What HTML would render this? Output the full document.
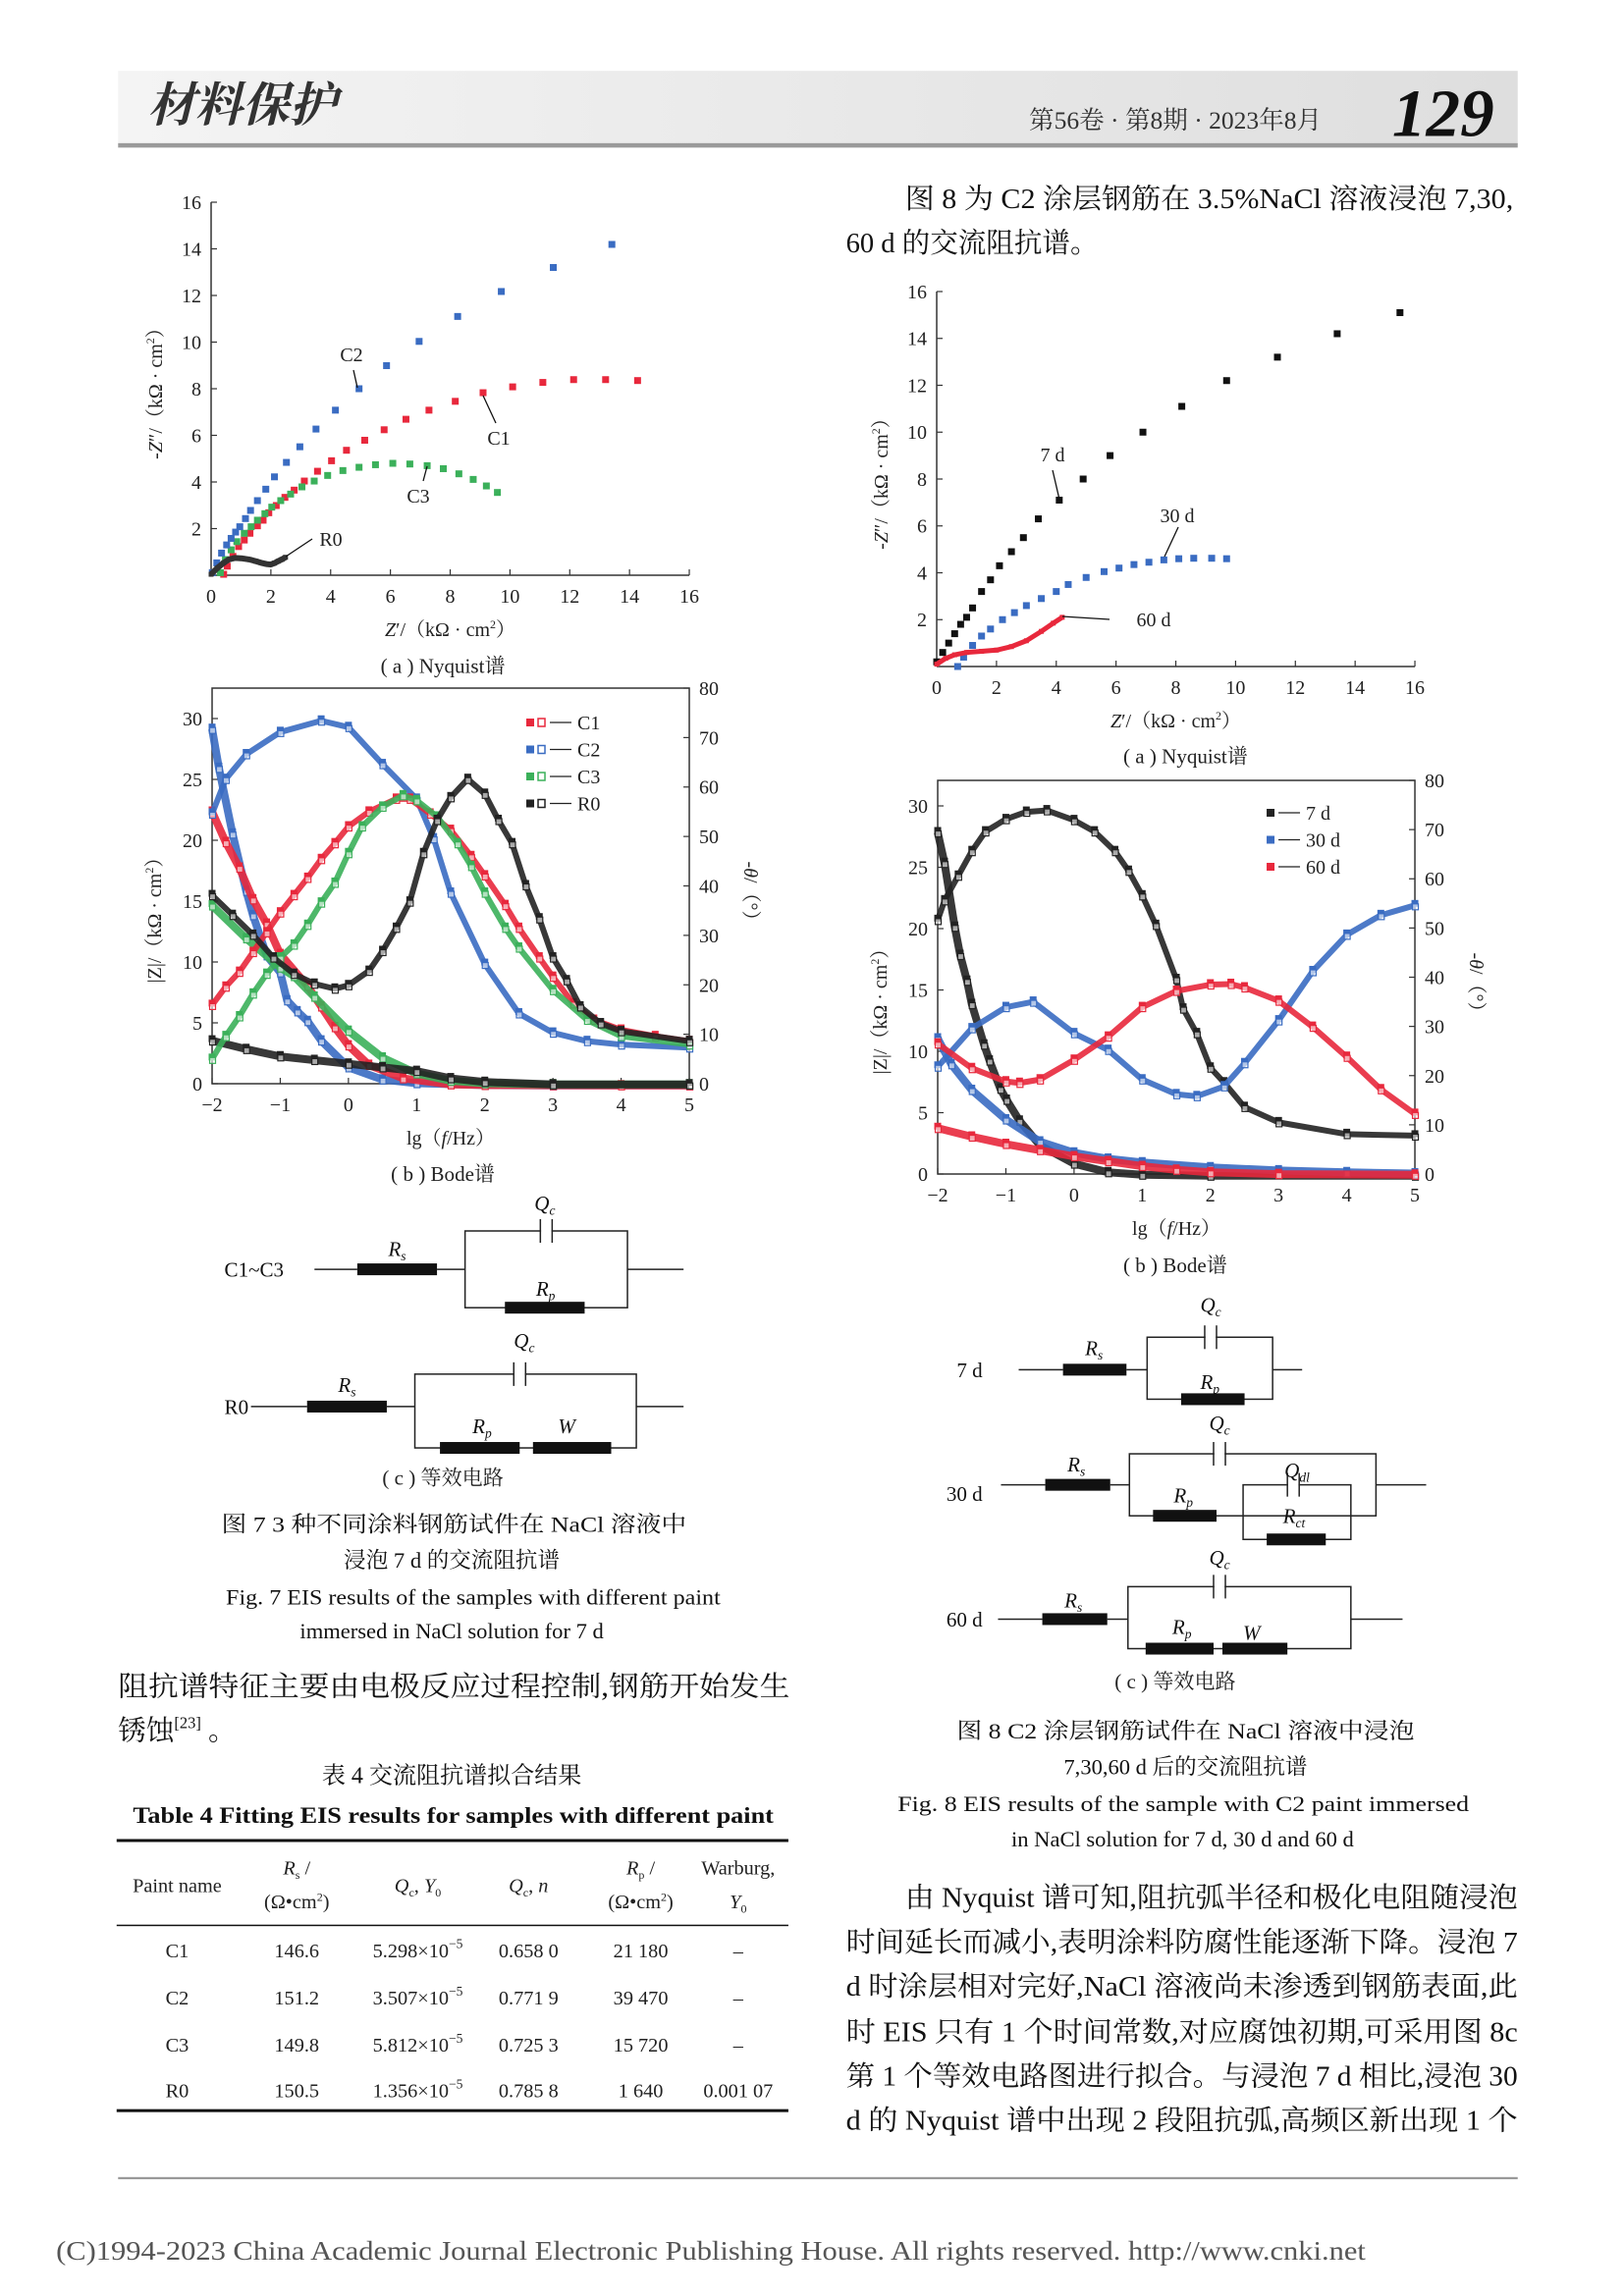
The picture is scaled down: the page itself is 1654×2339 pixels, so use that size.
<!DOCTYPE html>
<html><head><meta charset="utf-8">
<style>
html,body{margin:0;padding:0;background:#fff;}
svg{display:block;}
.cn{font-family:"Liberation Serif","Noto Serif CJK SC",serif;}
.tk{font-family:"Liberation Serif","Noto Serif CJK SC",serif;font-size:20px;fill:#222;}
</style></head>
<body>
<svg id="page" width="1654" height="2339" viewBox="0 0 1100 1555.6" preserveAspectRatio="none" xmlns="http://www.w3.org/2000/svg">
<defs><linearGradient id="hdr" x1="0" x2="1"><stop offset="0" stop-color="#f4f4f4"/><stop offset="1" stop-color="#dedede"/></linearGradient></defs>
<rect x="80" y="48" width="948" height="50" fill="url(#hdr)"/>
<rect x="80" y="97" width="948" height="3" fill="#9a9a9a"/>
<text x="100" y="82" class="cn" font-size="32" font-style="italic" font-weight="bold" fill="#333">材料保护</text>
<text x="697" y="87" class="cn" font-size="17" fill="#333">第56卷 · 第8期 · 2023年8月</text>
<text x="943" y="92" font-family="Liberation Serif" font-weight="bold" font-style="italic" font-size="46" fill="#111">129</text>

<g class="cn" font-size="19" fill="#111">
<text x="613" y="141" textLength="412" lengthAdjust="spacingAndGlyphs">图 8 为 C2 涂层钢筋在 3.5%NaCl 溶液浸泡 7,30,</text>
<text x="573" y="171">60 d 的交流阻抗谱。</text>
</g>

<g id="charts" transform="scale(0.665073)"></g>

<g class="cn" font-size="14" fill="#222" text-anchor="middle">
<text x="300" y="456">( a ) Nyquist谱</text>
<text x="300" y="800">( b ) Bode谱</text>
<text x="300" y="1006">( c ) 等效电路</text>
<text x="803" y="517">( a ) Nyquist谱</text>
<text x="796" y="862">( b ) Bode谱</text>
<text x="796" y="1144">( c ) 等效电路</text>
</g>

<!-- circuits fig7 -->
<g stroke="#222" stroke-width="1" fill="none">
<line x1="213" y1="860" x2="242" y2="860"/><line x1="296" y1="860" x2="315" y2="860"/>
<rect x="315" y="834" width="110" height="52"/><line x1="425" y1="860" x2="463" y2="860"/>
<rect x="366.5" y="831" width="7" height="6" fill="#fff" stroke="none"/>
<line x1="366" y1="826" x2="366" y2="842"/><line x1="374" y1="826" x2="374" y2="842"/>
<line x1="281" y1="953" x2="262" y2="953"/><line x1="208" y1="953" x2="170" y2="953"/>
<rect x="281" y="931" width="150" height="50"/><line x1="431" y1="953" x2="463" y2="953"/>
<rect x="348.5" y="928" width="7" height="6" fill="#fff" stroke="none"/>
<line x1="348" y1="923" x2="348" y2="939"/><line x1="356" y1="923" x2="356" y2="939"/>
</g>
<g fill="#111">
<rect x="242" y="856" width="54" height="8"/>
<rect x="342" y="882" width="54" height="8"/>
<rect x="208" y="949" width="54" height="8"/>
<rect x="298" y="977" width="54" height="8"/>
<rect x="361" y="977" width="53" height="8"/>
</g>
<g font-family="Liberation Serif" font-size="14" fill="#111">
<text x="152" y="865">C1~C3</text>
<text x="263" y="851" font-style="italic">R<tspan font-size="9" dy="3">s</tspan></text>
<text x="362" y="820" font-style="italic">Q<tspan font-size="9" dy="3">c</tspan></text>
<text x="363" y="878" font-style="italic">R<tspan font-size="9" dy="3">p</tspan></text>
<text x="152" y="958">R0</text>
<text x="229" y="943" font-style="italic">R<tspan font-size="9" dy="3">s</tspan></text>
<text x="348" y="913" font-style="italic">Q<tspan font-size="9" dy="3">c</tspan></text>
<text x="320" y="971" font-style="italic">R<tspan font-size="9" dy="3">p</tspan></text>
<text x="378" y="971" font-style="italic">W</text>
</g>

<!-- circuits fig8 -->
<g stroke="#222" stroke-width="1" fill="none">
<line x1="690" y1="928" x2="720" y2="928"/><line x1="763" y1="928" x2="777" y2="928"/>
<rect x="777" y="906" width="85" height="42"/><line x1="862" y1="928" x2="882" y2="928"/>
<rect x="816.5" y="903" width="7" height="6" fill="#fff" stroke="none"/>
<line x1="816" y1="898" x2="816" y2="914"/><line x1="824" y1="898" x2="824" y2="914"/>
<line x1="678" y1="1006" x2="708" y2="1006"/><line x1="752" y1="1006" x2="765" y2="1006"/>
<rect x="765" y="985" width="167" height="42"/><line x1="932" y1="1006" x2="966" y2="1006"/>
<rect x="822.5" y="982" width="7" height="6" fill="#fff" stroke="none"/>
<line x1="822" y1="977" x2="822" y2="993"/><line x1="830" y1="977" x2="830" y2="993"/>
<rect x="842" y="1006" width="73" height="37"/>
<rect x="872.5" y="1003" width="7" height="6" fill="#fff" stroke="none"/>
<line x1="872" y1="998" x2="872" y2="1014"/><line x1="880" y1="998" x2="880" y2="1014"/>
<line x1="676" y1="1097" x2="706" y2="1097"/><line x1="750" y1="1097" x2="764" y2="1097"/>
<rect x="764" y="1075" width="151" height="42"/><line x1="915" y1="1097" x2="950" y2="1097"/>
<rect x="822.5" y="1072" width="7" height="6" fill="#fff" stroke="none"/>
<line x1="822" y1="1067" x2="822" y2="1083"/><line x1="830" y1="1067" x2="830" y2="1083"/>
</g>
<g fill="#111">
<rect x="720" y="924" width="43" height="8"/>
<rect x="800" y="944" width="43" height="8"/>
<rect x="708" y="1002" width="44" height="8"/>
<rect x="781" y="1023" width="43" height="8"/>
<rect x="858" y="1039" width="40" height="8"/>
<rect x="706" y="1093" width="44" height="8"/>
<rect x="776" y="1113" width="46" height="8"/>
<rect x="828" y="1113" width="44" height="8"/>
</g>
<g font-family="Liberation Serif" font-size="14" fill="#111">
<text x="648" y="933">7 d</text>
<text x="735" y="918" font-style="italic">R<tspan font-size="9" dy="3">s</tspan></text>
<text x="813" y="889" font-style="italic">Q<tspan font-size="9" dy="3">c</tspan></text>
<text x="813" y="941" font-style="italic">R<tspan font-size="9" dy="3">p</tspan></text>
<text x="641" y="1017">30 d</text>
<text x="723" y="997" font-style="italic">R<tspan font-size="9" dy="3">s</tspan></text>
<text x="819" y="969" font-style="italic">Q<tspan font-size="9" dy="3">c</tspan></text>
<text x="795" y="1018" font-style="italic">R<tspan font-size="9" dy="3">p</tspan></text>
<text x="870" y="1001" font-style="italic">Q<tspan font-size="9" dy="3">dl</tspan></text>
<text x="869" y="1032" font-style="italic">R<tspan font-size="9" dy="3">ct</tspan></text>
<text x="641" y="1102">60 d</text>
<text x="721" y="1089" font-style="italic">R<tspan font-size="9" dy="3">s</tspan></text>
<text x="819" y="1060" font-style="italic">Q<tspan font-size="9" dy="3">c</tspan></text>
<text x="794" y="1107" font-style="italic">R<tspan font-size="9" dy="3">p</tspan></text>
<text x="842" y="1111" font-style="italic">W</text>
</g>

<!-- captions -->
<g class="cn" font-size="15" fill="#111">
<text x="150" y="1038" textLength="315" lengthAdjust="spacingAndGlyphs">图 7   3 种不同涂料钢筋试件在 NaCl 溶液中</text>
<text x="306" y="1062" text-anchor="middle">浸泡 7 d 的交流阻抗谱</text>
<text x="153" y="1087" textLength="335" lengthAdjust="spacingAndGlyphs">Fig. 7   EIS results of the samples with different paint</text>
<text x="306" y="1110" text-anchor="middle">immersed in NaCl solution for 7 d</text>
<text x="648" y="1178" textLength="310" lengthAdjust="spacingAndGlyphs">图 8   C2 涂层钢筋试件在 NaCl 溶液中浸泡</text>
<text x="803" y="1202" text-anchor="middle">7,30,60 d 后的交流阻抗谱</text>
<text x="608" y="1227" textLength="387" lengthAdjust="spacingAndGlyphs">Fig. 8   EIS results of the sample with C2 paint immersed</text>
<text x="801" y="1251" text-anchor="middle">in NaCl solution for 7 d, 30 d and 60 d</text>
</g>

<g class="cn" font-size="19" fill="#111">
<text x="80" y="1149" textLength="455" lengthAdjust="spacingAndGlyphs">阻抗谱特征主要由电极反应过程控制,钢筋开始发生</text>
<text x="80" y="1179">锈蚀<tspan font-size="11" dy="-8">[23]</tspan><tspan dy="8"> 。</tspan></text>
</g>
<text x="306" y="1208" class="cn" font-size="16" text-anchor="middle" fill="#111">表 4   交流阻抗谱拟合结果</text>
<text x="90" y="1235" font-family="Liberation Serif" font-weight="bold" font-size="15.5" textLength="434" lengthAdjust="spacingAndGlyphs" fill="#111">Table 4   Fitting EIS results for samples with different paint</text>

<g>
<rect x="79" y="1246" width="455" height="2" fill="#111"/>
<rect x="79" y="1304" width="455" height="1" fill="#111"/>
<rect x="79" y="1429" width="455" height="2" fill="#111"/>
<g font-family="Liberation Serif" font-size="13.5" fill="#222" text-anchor="middle">
<text x="120" y="1282">Paint name</text>
<text x="201" y="1270"><tspan font-style="italic">R</tspan><tspan font-size="8" dy="3">s</tspan><tspan dy="-3"> /</tspan></text>
<text x="201" y="1293">(Ω•cm<tspan font-size="8" dy="-5">2</tspan><tspan dy="5">)</tspan></text>
<text x="283" y="1282"><tspan font-style="italic">Q</tspan><tspan font-size="8" dy="3">c</tspan><tspan dy="-3">, </tspan><tspan font-style="italic">Y</tspan><tspan font-size="8" dy="3">0</tspan></text>
<text x="358" y="1282"><tspan font-style="italic">Q</tspan><tspan font-size="8" dy="3">c</tspan><tspan dy="-3">, </tspan><tspan font-style="italic">n</tspan></text>
<text x="434" y="1270"><tspan font-style="italic">R</tspan><tspan font-size="8" dy="3">p</tspan><tspan dy="-3"> /</tspan></text>
<text x="434" y="1293">(Ω•cm<tspan font-size="8" dy="-5">2</tspan><tspan dy="5">)</tspan></text>
<text x="500" y="1270">Warburg,</text>
<text x="500" y="1293"><tspan font-style="italic">Y</tspan><tspan font-size="8" dy="3">0</tspan></text>
</g>
<g id="tbody" font-family="Liberation Serif" font-size="13.5" fill="#222" text-anchor="middle"></g>
</g>

<g class="cn" font-size="19" fill="#111">
<text x="613" y="1292" textLength="415" lengthAdjust="spacingAndGlyphs">由 Nyquist 谱可知,阻抗弧半径和极化电阻随浸泡</text>
<text x="573" y="1322" textLength="455" lengthAdjust="spacingAndGlyphs">时间延长而减小,表明涂料防腐性能逐渐下降。浸泡 7</text>
<text x="573" y="1352" textLength="455" lengthAdjust="spacingAndGlyphs">d 时涂层相对完好,NaCl 溶液尚未渗透到钢筋表面,此</text>
<text x="573" y="1383" textLength="455" lengthAdjust="spacingAndGlyphs">时 EIS 只有 1 个时间常数,对应腐蚀初期,可采用图 8c</text>
<text x="573" y="1413" textLength="455" lengthAdjust="spacingAndGlyphs">第 1 个等效电路图进行拟合。与浸泡 7 d 相比,浸泡 30</text>
<text x="573" y="1443" textLength="455" lengthAdjust="spacingAndGlyphs">d 的 Nyquist 谱中出现 2 段阻抗弧,高频区新出现 1 个</text>
</g>
<rect x="80" y="1475" width="948" height="1.5" fill="#999"/>
<text x="38" y="1531" font-family="Liberation Serif" font-size="18" fill="#555" textLength="887" lengthAdjust="spacingAndGlyphs">(C)1994-2023 China Academic Journal Electronic Publishing House. All rights reserved.    http://www.cnki.net</text>
</svg>

<script>
// ===== Fig 7a Nyquist data (kΩ·cm²) =====
const f7aTicks = [0,2,4,6,8,10,12,14,16];
const f7aC1X = [0.42,0.54,0.73,0.92,1.11,1.3,1.55,1.74,1.93,2.18,2.47,2.78,3.12,3.56,4.03,4.53,5.14,5.79,6.52,7.29,8.17,9.1,10.09,11.1,12.13,13.2,14.27];
const f7aC1Y = [0.04,0.39,0.81,1.23,1.51,1.8,2.12,2.36,2.68,2.99,3.34,3.65,4.04,4.46,4.91,5.36,5.79,6.24,6.69,7.08,7.46,7.83,8.08,8.27,8.39,8.39,8.35];
const f7aC2X = [0.04,0.19,0.35,0.52,0.67,0.82,0.96,1.15,1.32,1.55,1.83,2.12,2.52,2.97,3.51,4.16,4.95,5.87,6.96,8.25,9.71,11.45,13.41];
const f7aC2Y = [0.11,0.53,0.95,1.3,1.58,1.85,2.08,2.43,2.78,3.2,3.69,4.22,4.84,5.51,6.27,7.08,8.0,8.99,10.03,11.1,12.17,13.2,14.19];
const f7aC3X = [0.31,0.48,0.67,0.86,1.11,1.34,1.55,1.8,2.03,2.33,2.66,3.04,3.45,3.9,4.41,4.95,5.5,6.08,6.65,7.23,7.77,8.29,8.77,9.21,9.58];
const f7aC3Y = [0.11,0.67,1.09,1.44,1.8,2.08,2.36,2.64,2.92,3.2,3.48,3.79,4.04,4.28,4.49,4.63,4.74,4.8,4.77,4.7,4.57,4.35,4.11,3.83,3.55];
const f7aR0X = [0,0.2,0.42,0.6,0.79,1.05,1.3,1.5,1.68,1.85,1.99,2.12,2.24,2.37,2.49];
const f7aR0Y = [0.04,0.3,0.53,0.68,0.74,0.72,0.67,0.6,0.53,0.48,0.46,0.52,0.6,0.68,0.77];

// ===== Fig 7b Bode data =====
const bodeXTicks = [-2,-1,0,1,2,3,4,5];
const bodeZTicks = [0,5,10,15,20,25,30];
const bodePTicks = [0,10,20,30,40,50,60,70,80];
const b7C1ZX = [-2,-1.8,-1.6,-1.4,-1.2,-1,-0.6,-0.4,-0.2,0,0.3,0.8,1.5,2,3,4,5];
const b7C1Z  = [22.5,20,17.9,15.3,13.3,10.8,8.2,6.5,4.8,3.3,1.7,0.6,0.1,0.05,0.03,0.02,0.02];
const b7C2ZX = [-2,-1.9,-1.7,-1.5,-1.4,-1.2,-1,-0.9,-0.75,-0.6,-0.4,0,0.5,1,2,3,5];
const b7C2Z  = [29.3,26.1,20.7,16,14,10.7,9.3,7,6.1,5.3,3.7,1.5,0.5,0.2,0.05,0.02,0.02];
const b7C3ZX = [-2,-1.5,-1,-0.8,-0.5,0,0.5,1,1.5,2,3,5];
const b7C3Z  = [14.8,12.1,9.7,9,7.3,4.5,2.3,1,0.4,0.2,0.1,0.1];
const b7R0ZX = [-2,-1.5,-1,-0.5,0,0.5,1,1.5,2,3,5];
const b7R0Z  = [3.7,3,2.4,2.1,1.8,1.5,1.2,0.6,0.3,0.1,0.1];
const b7C1PX = [-2,-1.8,-1.6,-1.4,-1.2,-1,-0.8,-0.6,-0.4,-0.2,0,0.3,0.7,0.9,1.2,1.5,1.8,2,2.3,2.5,2.8,3,3.3,3.6,4,4.5,5];
const b7C1P  = [16.3,20,23,27,31,35,38.5,42,45.8,49,52.4,55.4,58,58,55,51.7,46.4,42.5,36.5,31.9,25.9,22,16.6,13.3,11.3,10,9];
const b7C2PX = [-2,-1.8,-1.5,-1,-0.4,0,0.5,1,1.25,1.5,2,2.5,3,3.5,4,5];
const b7C2P  = [55,62,67,71.5,73.8,72.5,65,58,50,39,24.6,14.6,10.7,9,8.3,7.7];
const b7C3PX = [-2,-1.8,-1.6,-1.4,-1.2,-1,-0.8,-0.6,-0.4,-0.2,0,0.2,0.5,0.8,1,1.3,1.6,1.8,2,2.3,2.5,3,3.5,4,5];
const b7C3P  = [5.4,10,14,18.6,22.6,25.9,28.5,32.5,37,41,47,52.4,56.4,58.7,57.7,54.4,49,44.4,39,31.9,27.9,19.3,13.3,10,8.3];
const b7R0PX = [-2,-1.7,-1.4,-1.1,-0.8,-0.5,-0.2,0,0.3,0.5,0.7,0.9,1.1,1.3,1.5,1.75,2,2.2,2.4,2.6,2.8,3,3.2,3.4,3.7,4,5];
const b7R0P  = [38.5,34.5,30.5,25.9,22.6,20.6,19.6,20.3,23.2,27.2,31.9,37.2,47,53.7,58.3,62,59,53.7,49,40.5,33.8,25.9,21.3,16,12.6,11,9];

// ===== Fig 8a Nyquist data =====
const f8a7dX = [0,0.2,0.4,0.6,0.8,1,1.2,1.5,1.8,2.1,2.5,2.9,3.4,4.1,4.9,5.8,6.9,8.2,9.7,11.4,13.4,15.5];
const f8a7dY = [0.2,0.6,1,1.4,1.8,2.1,2.5,3.2,3.7,4.3,4.9,5.5,6.3,7.1,8,9,10,11.1,12.2,13.2,14.2,15.1];
const f8a30dX = [0.7,0.9,1.2,1.5,1.8,2.2,2.6,3,3.5,4,4.4,5,5.6,6.1,6.6,7.1,7.6,8.1,8.6,9.2,9.7];
const f8a30dY = [0,0.4,0.9,1.3,1.6,2,2.3,2.6,2.9,3.2,3.5,3.8,4.05,4.2,4.35,4.45,4.55,4.6,4.62,4.62,4.6];
const f8a60dX = [0,0.3,0.6,1,1.5,2,2.5,3,3.5,3.9,4.2];
const f8a60dY = [0.1,0.35,0.5,0.6,0.65,0.7,0.85,1.1,1.5,1.85,2.1];

// ===== Fig 8b Bode data =====
const b8d7ZX = [-2,-1.9,-1.75,-1.67,-1.57,-1.5,-1.32,-1.24,-1.08,-0.99,-0.8,-0.5,0,0.5,1,2,5];
const b8d7Z  = [28,25.5,20.3,18,15.9,14,10.7,9.4,7.1,6.2,4.5,2.5,1,0.3,0.1,0.02,0.02];
const b8d7PX = [-2,-1.9,-1.7,-1.5,-1.3,-1,-0.7,-0.4,0,0.3,0.6,0.8,1,1.2,1.5,1.6,1.8,2,2.2,2.5,3,4,5];
const b8d7P  = [52,56,61,66,70,72.5,74,74.3,72.3,70,66,62,57,51,40,34,29,22,19,14,10.9,8.5,8.2];
const b8d30ZX = [-2,-1.8,-1.5,-1,-0.5,0,0.5,1,2,3,4,5];
const b8d30Z  = [11.2,9.1,7,4.6,2.8,1.9,1.4,1.1,0.7,0.45,0.3,0.2];
const b8d30PX = [-2,-1.5,-1,-0.6,0,0.5,1,1.5,1.8,2.2,2.5,3,3.5,4,4.5,5];
const b8d30P  = [22.2,30,34.3,35.4,29,25.6,19.6,16.6,16.2,18.2,22.9,31.6,41.6,49,53,55];
const b8d60ZX = [-2,-1.5,-1,-0.5,0,0.5,1,1.5,2,3,5];
const b8d60Z  = [3.9,3.2,2.6,2.1,1.6,1.2,0.8,0.5,0.3,0.15,0.1];
const b8d60PX = [-2,-1.5,-1,-0.8,-0.5,0,0.5,1,1.5,2,2.3,2.5,3,3.5,4,4.5,5];
const b8d60P  = [26.9,21.9,19.2,18.9,19.6,23.6,28.3,34.3,37.6,38.9,39,38.3,35.6,30.3,24.2,17.6,12.6];

// ===== Table 4 =====
const tNames = ['C1','C2','C3','R0'];
const tRs = ['146.6','151.2','149.8','150.5'];
const tY0 = ['5.298','3.507','5.812','1.356'];
const tN = ['0.658 0','0.771 9','0.725 3','0.785 8'];
const tRp = ['21 180','39 470','15 720','1 640'];
const tW = ['–','–','–','0.001 07'];

const NS = 'http://www.w3.org/2000/svg';
const root = document.getElementById('charts');
function mk(tag, attrs, parent){ const e=document.createElementNS(NS,tag); for(const k in attrs) e.setAttribute(k,attrs[k]); (parent||root).appendChild(e); return e; }
function txt(s, attrs, parent){ const e=mk('text',attrs,parent); e.textContent=s; return e; }

const BLUE='#3a6cc2', RED='#e8283c', GREEN='#3bb05a', BLACK='#222';

// ---------- Nyquist plot builder ----------
function nyquist(id, ox, oy, w, h, series, annotations){
  const g = mk('g',{});
  
  
  const X = v => ox + v*w/16, Y = v => oy - v*h/16;
  mk('line',{x1:ox,y1:oy,x2:ox,y2:oy-h,stroke:'#333','stroke-width':1.5},g);
  mk('line',{x1:ox,y1:oy,x2:ox+w,y2:oy,stroke:'#333','stroke-width':1.5},g);
  f7aTicks.forEach(t=>{
    mk('line',{x1:X(t),y1:oy,x2:X(t),y2:oy-6,stroke:'#333','stroke-width':1.2},g);
    const xl = txt(String(t),{x:X(t),y:oy+28,'text-anchor':'middle',class:'tk'},g);
    
    
    if(t>0){
      mk('line',{x1:ox,y1:Y(t),x2:ox+6,y2:Y(t),stroke:'#333','stroke-width':1.2},g);
      const yl = txt(String(t),{x:ox-10,y:Y(t)+7,'text-anchor':'end',class:'tk'},g);
      
      
    }
  });
  const xt = txt('',{x:ox+w/2,y:oy+62,'text-anchor':'middle',class:'tk'},g);
  xt.innerHTML = '<tspan font-style="italic">Z</tspan>′/（kΩ · cm<tspan font-size="12" dy="-8">2</tspan><tspan dy="8">）</tspan>';
  
  
  const yt = txt('',{x:0,y:0,'text-anchor':'middle',class:'tk',transform:`translate(${ox-50},${oy-h/2}) rotate(-90)`},g);
  yt.innerHTML = '-<tspan font-style="italic">Z</tspan>″/（kΩ · cm<tspan font-size="12" dy="-8">2</tspan><tspan dy="8">）</tspan>';
  
  
  series.forEach(s=>{
    const sg = mk('g',{},g);
    
    
    if(s.line){
      mk('polyline',{points:s.xs.map((v,i)=>X(v)+','+Y(s.ys[i])).join(' '),fill:'none',stroke:s.color,'stroke-width':s.line,'stroke-linejoin':'round'},sg);
    }
    s.xs.forEach((v,i)=>{
      const r = mk('rect',{x:X(v)-s.size/2,y:Y(s.ys[i])-s.size/2,width:s.size,height:s.size,fill:s.color},sg);
      
      
    });
  });
  annotations.forEach(a=>{
    mk('line',{x1:a.lx1,y1:a.ly1,x2:a.lx2,y2:a.ly2,stroke:'#111','stroke-width':1.3},g);
    const t = txt(a.t,{x:a.x,y:a.y,'text-anchor':'middle',class:'tk'},g);
    
    
  });
}

nyquist('fig7a', 215, 586, 487, 380, [
  {name:'series-c1',xs:f7aC1X,ys:f7aC1Y,color:RED,size:7},
  {name:'series-c3',xs:f7aC3X,ys:f7aC3Y,color:GREEN,size:7},
  {name:'series-c2',xs:f7aC2X,ys:f7aC2Y,color:BLUE,size:7},
  {name:'series-r0',xs:f7aR0X,ys:f7aR0Y,color:'#333',size:5,line:6}
],[
  {t:'C2',x:358,y:368,lx1:360,ly1:377,lx2:364,ly2:395},
  {t:'C1',x:508,y:453,lx1:492,ly1:403,lx2:505,ly2:431},
  {t:'C3',x:426,y:512,lx1:435,ly1:475,lx2:431,ly2:490},
  {t:'R0',x:337,y:556,lx1:318,ly1:549,lx2:291,ly2:567}
]);

nyquist('fig8a', 954, 679, 487, 382, [
  {name:'series-7d',xs:f8a7dX,ys:f8a7dY,color:'#111',size:7},
  {name:'series-30d',xs:f8a30dX,ys:f8a30dY,color:BLUE,size:7},
  {name:'series-60d',xs:f8a60dX,ys:f8a60dY,color:RED,size:5,line:5}
],[
  {t:'7 d',x:1072,y:470,lx1:1072,ly1:479,lx2:1079,ly2:509},
  {t:'30 d',x:1199,y:532,lx1:1200,ly1:537,lx2:1186,ly2:567},
  {t:'60 d',x:1175,y:638,lx1:1130,ly1:631,lx2:1082,ly2:628}
]);

// ---------- Bode plot builder ----------
function bode(id, x0, x1, yb, yt, zTop, series, legend, legX, legY){
  const g = mk('g',{});
  
  
  const X = v => x0 + (v+2)*(x1-x0)/7;
  const YL = v => yb - v*(yb-zTop)/30;
  const YR = v => yb - v*(yb-yt)/80;
  mk('rect',{x:x0,y:yt,width:x1-x0,height:yb-yt,fill:'none',stroke:'#333','stroke-width':1.5},g);
  bodeXTicks.forEach(t=>{
    mk('line',{x1:X(t),y1:yb,x2:X(t),y2:yb-6,stroke:'#333','stroke-width':1.2},g);
    const l = txt(t<0?'−'+(-t):String(t),{x:X(t),y:yb+28,'text-anchor':'middle',class:'tk'},g);
    
    
  });
  bodeZTicks.forEach(t=>{
    mk('line',{x1:x0,y1:YL(t),x2:x0+6,y2:YL(t),stroke:'#333','stroke-width':1.2},g);
    const l = txt(String(t),{x:x0-10,y:YL(t)+7,'text-anchor':'end',class:'tk'},g);
    
    
  });
  bodePTicks.forEach(t=>{
    mk('line',{x1:x1,y1:YR(t),x2:x1-6,y2:YR(t),stroke:'#333','stroke-width':1.2},g);
    const l = txt(String(t),{x:x1+10,y:YR(t)+7,'text-anchor':'start',class:'tk'},g);
    
    
  });
  const xt = txt('',{x:(x0+x1)/2,y:yb+62,'text-anchor':'middle',class:'tk'},g);
  xt.innerHTML = 'lg（<tspan font-style="italic">f</tspan>/Hz）';
  
  
  const lt = txt('',{x:0,y:0,'text-anchor':'middle',class:'tk',transform:`translate(${x0-52},${(yb+yt)/2+30}) rotate(-90)`},g);
  lt.innerHTML = '|Z|/（kΩ · cm<tspan font-size="12" dy="-8">2</tspan><tspan dy="8">）</tspan>';
  
  
  const rt = txt('',{x:0,y:0,'text-anchor':'middle',class:'tk',transform:`translate(${x1+56},${(yb+yt)/2+10}) rotate(90)`},g);
  rt.innerHTML = '-<tspan font-style="italic">θ</tspan>/（°）';
  
  
  series.forEach(s=>{
    const sg = mk('g',{},g);
    
    
    const Y = s.axis==='z' ? YL : YR;
    mk('polyline',{points:s.xs.map((v,i)=>X(v)+','+(Y(s.ys[i])+2)).join(' '),fill:'none',stroke:s.color,'stroke-width':s.axis==='z'?8:6,'stroke-linejoin':'round','stroke-opacity':0.9},sg);
    s.xs.forEach((v,i)=>{
      const r = mk('rect',{x:X(v)-3.5,y:Y(s.ys[i])-3.5,width:7,height:7,fill:s.color},sg);
      
      
      mk('rect',{x:X(v)-2.5,y:Y(s.ys[i])+0.5,width:6,height:6,fill:'#fff',stroke:s.color,'stroke-width':1.2,'fill-opacity':0.6},sg);
    });
  });
  legend.forEach((L,i)=>{
    const lg = mk('g',{},g);
    
    
    const y = legY + i*L.gap;
    mk('rect',{x:legX,y:y-4,width:8,height:8,fill:L.color},lg);
    if(L.hollow) mk('rect',{x:legX+12,y:y-4,width:7,height:8,fill:'#fff',stroke:L.color,'stroke-width':1.5},lg);
    const lx = legX + (L.hollow?24:12);
    mk('line',{x1:lx,y1:y,x2:lx+22,y2:y,stroke:'#222','stroke-width':1.3},lg);
    txt(L.t,{x:lx+28,y:y+7,class:'tk'},lg);
  });
}

bode('fig7b', 216, 702, 1104, 701, 732, [
  {name:'c2-modulus',axis:'z',xs:b7C2ZX,ys:b7C2Z,color:BLUE},
  {name:'c1-modulus',axis:'z',xs:b7C1ZX,ys:b7C1Z,color:RED},
  {name:'c3-modulus',axis:'z',xs:b7C3ZX,ys:b7C3Z,color:GREEN},
  {name:'r0-modulus',axis:'z',xs:b7R0ZX,ys:b7R0Z,color:BLACK},
  {name:'c2-phase',axis:'p',xs:b7C2PX,ys:b7C2P,color:BLUE},
  {name:'c1-phase',axis:'p',xs:b7C1PX,ys:b7C1P,color:RED},
  {name:'c3-phase',axis:'p',xs:b7C3PX,ys:b7C3P,color:GREEN},
  {name:'r0-phase',axis:'p',xs:b7R0PX,ys:b7R0P,color:BLACK}
],[
  {t:'C1',color:RED,hollow:true,gap:27.5},
  {t:'C2',color:BLUE,hollow:true,gap:27.5},
  {t:'C3',color:GREEN,hollow:true,gap:27.5},
  {t:'R0',color:BLACK,hollow:true,gap:27.5}
], 536, 736);

bode('fig8b', 955, 1441, 1196, 795, 821, [
  {name:'7d-modulus',axis:'z',xs:b8d7ZX,ys:b8d7Z,color:BLACK},
  {name:'30d-modulus',axis:'z',xs:b8d30ZX,ys:b8d30Z,color:BLUE},
  {name:'60d-modulus',axis:'z',xs:b8d60ZX,ys:b8d60Z,color:RED},
  {name:'7d-phase',axis:'p',xs:b8d7PX,ys:b8d7P,color:BLACK},
  {name:'30d-phase',axis:'p',xs:b8d30PX,ys:b8d30P,color:BLUE},
  {name:'60d-phase',axis:'p',xs:b8d60PX,ys:b8d60P,color:RED}
],[
  {t:'7 d',color:BLACK,gap:27.5},
  {t:'30 d',color:BLUE,gap:27.5},
  {t:'60 d',color:RED,gap:27.5}
], 1290, 828);

// ---------- table body ----------
const tb = document.getElementById('tbody');
const rowY = [1326,1358,1390,1421];
const colX = [120,201,283,358,434,500];
tNames.forEach((n,i)=>{
  const row = mk('g',{},tb);
  
  
  txt(n,{x:colX[0],y:rowY[i]},row);
  txt(tRs[i],{x:colX[1],y:rowY[i]},row);
  const q = txt('',{x:colX[2],y:rowY[i]},row);
  q.innerHTML = tY0[i]+'×10<tspan font-size="9" dy="-6">−5</tspan>';
  txt(tN[i],{x:colX[3],y:rowY[i]},row);
  txt(tRp[i],{x:colX[4],y:rowY[i]},row);
  txt(tW[i],{x:colX[5],y:rowY[i]},row);
});
</script>
</body></html>
